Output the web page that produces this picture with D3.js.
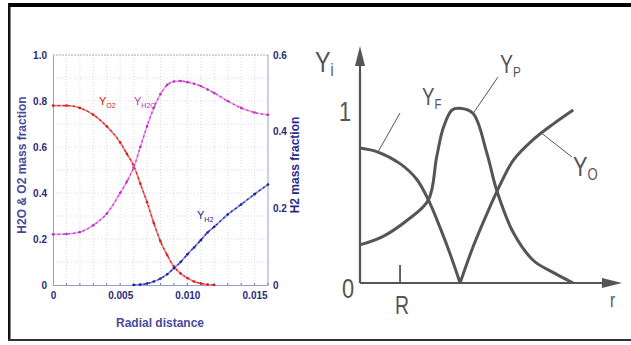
<!DOCTYPE html>
<html>
<head>
<meta charset="utf-8">
<script src="https://cdn.jsdelivr.net/npm/d3@7"></script>
<style>
  body { margin: 0; background: #fff; }
  svg { display: block; }
</style>
</head>
<body>
<div id="chart"></div>
<script>
// left panel: simulated profiles vs radial distance
const radial = [0, 0.001, 0.002, 0.003, 0.004, 0.005, 0.0055, 0.006, 0.0065, 0.007, 0.0075, 0.008, 0.0085, 0.009, 0.0095, 0.010, 0.0105, 0.011, 0.0115, 0.012, 0.013, 0.014, 0.015, 0.016];
const yO2 =    [0.78, 0.78, 0.77, 0.74, 0.69, 0.62, 0.57, 0.52, 0.44, 0.36, 0.27, 0.19, 0.13, 0.08, 0.05, 0.03, 0.015, 0.007, 0.002, 0, null, null, null, null];
const yH2O =   [0.22, 0.222, 0.23, 0.26, 0.31, 0.40, 0.45, 0.51, 0.60, 0.69, 0.77, 0.83, 0.87, 0.885, 0.887, 0.882, 0.875, 0.865, 0.85, 0.835, 0.80, 0.77, 0.75, 0.74];
const yH2 =    [null, null, null, null, null, null, null, 0, 0.001, 0.004, 0.009, 0.017, 0.028, 0.044, 0.06, 0.08, 0.098, 0.117, 0.137, 0.152, 0.184, 0.21, 0.237, 0.262];
const xTicks = [0, 0.005, 0.010, 0.015];
const xTickLabels = ['0', '0.005', '0.010', '0.015'];
const leftTicks = [0, 0.2, 0.4, 0.6, 0.8, 1.0];
const leftTickLabels = ['0', '0.2', '0.4', '0.6', '0.8', '1.0'];
const rightTicks = [0, 0.2, 0.4, 0.6];
const rightTickLabels = ['0', '0.2', '0.4', '0.6'];

// right panel: schematic sketch
const rF = [0, 0.069, 0.154, 0.218, 0.263, 0.308, 0.346, 0.385];
const vF = [0.78, 0.757, 0.69, 0.60, 0.48, 0.32, 0.17, 0];
const rO = [0.385, 0.435, 0.488, 0.527, 0.59, 0.667, 0.744, 0.82];
const vO = [0, 0.21, 0.40, 0.53, 0.71, 0.83, 0.92, 1.0];
const rP = [0, 0.089, 0.179, 0.263, 0.295, 0.321, 0.354, 0.385, 0.435, 0.488, 0.527, 0.59, 0.667, 0.744, 0.82];
const vP = [0.22, 0.27, 0.36, 0.48, 0.73, 0.90, 1.0, 1.01, 0.98, 0.75, 0.53, 0.29, 0.13, 0.06, 0];
const sketchR = 0.154;

const width = 631, height = 345;
const svg = d3.select('#chart').append('svg')
  .attr('width', width)
  .attr('height', height);

// frame of the composite picture
svg.append('rect').attr('x', 8).attr('y', 3).attr('width', width - 8).attr('height', 4).attr('fill', '#000');
svg.append('rect').attr('x', 8).attr('y', 3).attr('width', 2.5).attr('height', 338).attr('fill', '#111');
svg.append('rect').attr('x', 8).attr('y', 339).attr('width', width - 8).attr('height', 2).attr('fill', '#333');

// ---------- left plot ----------
const x = d3.scaleLinear().domain([0, 0.016]).range([53, 268]);
const yL = d3.scaleLinear().domain([0, 1]).range([285, 55]);
const yR = d3.scaleLinear().domain([0, 0.6]).range([285, 55]);

const plot = svg.append('g');
const tickFont = '"Liberation Sans", Arial, sans-serif';

// dotted grid
plot.append('g').selectAll('line')
  .data(d3.range(1, 16).map(i => i * 0.001))
  .join('line')
  .attr('x1', d => x(d)).attr('x2', d => x(d))
  .attr('y1', yL(1)).attr('y2', yL(0))
  .attr('stroke', '#cfd0dc').attr('stroke-width', 0.8).attr('stroke-dasharray', '1,2');
plot.append('g').selectAll('line')
  .data(d3.range(1, 10).map(i => i * 0.1))
  .join('line')
  .attr('x1', x(0)).attr('x2', x(0.016))
  .attr('y1', d => yL(d)).attr('y2', d => yL(d))
  .attr('stroke', '#cfd0dc').attr('stroke-width', 0.8).attr('stroke-dasharray', '1,2');

// box
plot.append('line').attr('x1', x(0)).attr('x2', x(0.016)).attr('y1', yL(1)).attr('y2', yL(1))
  .attr('stroke', '#a8aac8').attr('stroke-dasharray', '2,1');
plot.append('line').attr('x1', x(0.016)).attr('x2', x(0.016)).attr('y1', yL(1)).attr('y2', yL(0))
  .attr('stroke', '#9a9cd0');

const axisStyle = g => {
  g.select('.domain').attr('stroke', '#9a9cd0');
  g.selectAll('.tick line').attr('stroke', '#9a9cd0');
  g.selectAll('.tick text')
    .attr('fill', '#2a2a7a')
    .style('font-family', tickFont)
    .style('font-weight', 'bold')
    .style('font-size', '10px');
};

plot.append('g')
  .attr('transform', `translate(${x(0)},0)`)
  .call(d3.axisLeft(yL).tickValues(leftTicks).tickSize(0).tickPadding(6)
    .tickFormat((d, i) => leftTickLabels[i]))
  .call(axisStyle);

plot.append('g')
  .attr('transform', `translate(${x(0.016)},0)`)
  .call(d3.axisRight(yR).tickValues(rightTicks).tickSize(0).tickPadding(5)
    .tickFormat((d, i) => rightTickLabels[i]))
  .call(axisStyle)
  .call(g => g.select('.domain').remove());

plot.append('g')
  .attr('transform', `translate(0,${yL(0)})`)
  .call(d3.axisBottom(x).tickValues(xTicks).tickSize(0).tickPadding(7)
    .tickFormat((d, i) => xTickLabels[i]))
  .call(axisStyle);

// minor ticks on bottom axis
plot.append('g').selectAll('line')
  .data(d3.range(1, 17).map(i => i * 0.001))
  .join('line')
  .attr('x1', d => x(d)).attr('x2', d => x(d))
  .attr('y1', yL(0)).attr('y2', yL(0) - 2)
  .attr('stroke', '#7070b0');

// axis titles
const titleStyle = t => t.attr('fill', '#4a4a9a')
  .style('font-family', tickFont).style('font-weight', 'bold').style('font-size', '12px')
  .attr('text-anchor', 'middle');
plot.append('text').attr('transform', 'translate(26,165) rotate(-90)').text('H2O & O2 mass fraction').call(titleStyle);
plot.append('text').attr('transform', 'translate(299,165) rotate(-90)').text('H2 mass fraction').call(titleStyle).attr('fill', '#2a2a8a');
plot.append('text').attr('x', 160).attr('y', 327).text('Radial distance').call(titleStyle);

// curves
const series = [
  { vals: yO2, scale: yL, light: '#f08080', dark: '#d02020' },
  { vals: yH2O, scale: yL, light: '#f0a0f0', dark: '#c030c0' },
  { vals: yH2, scale: yR, light: '#8090e0', dark: '#202090' }
];
series.forEach(s => {
  const pts = radial.map((r, i) => [r, s.vals[i]]).filter(p => p[1] !== null);
  const line = d3.line().x(p => x(p[0])).y(p => s.scale(p[1])).curve(d3.curveMonotoneX);
  plot.append('path').attr('d', line(pts)).attr('fill', 'none')
    .attr('stroke', s.light).attr('stroke-width', 1.8);
  plot.append('path').attr('d', line(pts)).attr('fill', 'none')
    .attr('stroke', s.dark).attr('stroke-width', 1.2).attr('stroke-dasharray', '2,3');
  plot.append('g').selectAll('circle').data(pts).join('circle')
    .attr('cx', p => x(p[0])).attr('cy', p => s.scale(p[1])).attr('r', 1.3)
    .attr('fill', s.dark);
});

// curve labels
const curveLabel = (px, py, sub, color) => {
  const t = plot.append('text').attr('x', px).attr('y', py).attr('fill', color)
    .style('font-family', tickFont).style('font-size', '11px');
  t.append('tspan').text('Y');
  t.append('tspan').attr('dy', 3).style('font-size', '7px').text(sub);
};
curveLabel(99, 105, 'O2', '#d02020');
curveLabel(134, 105, 'H2O', '#c030c0');
curveLabel(197, 219, 'H2', '#202090');

// ---------- right sketch ----------
const sx = d3.scaleLinear().domain([0, 1]).range([360, 620]);
const sy = d3.scaleLinear().domain([0, 1]).range([283, 110]);
const ink = '#555';
const sketch = svg.append('g');
const sketchFont = '"Liberation Sans", Arial, sans-serif';

// axes with arrows
sketch.append('line').attr('x1', sx(0)).attr('x2', sx(0)).attr('y1', sy(0)).attr('y2', 58)
  .attr('stroke', ink).attr('stroke-width', 2.2);
sketch.append('path').attr('d', `M${sx(0)},46 L${sx(0) - 5},66 L${sx(0) + 5},66 Z`).attr('fill', ink);
sketch.append('line').attr('x1', sx(0)).attr('x2', 610).attr('y1', sy(0)).attr('y2', sy(0))
  .attr('stroke', ink).attr('stroke-width', 2.2);
sketch.append('path').attr('d', `M622,${sy(0)} L602,${sy(0) - 5} L602,${sy(0) + 5} Z`).attr('fill', ink);
sketch.append('line').attr('x1', sx(sketchR)).attr('x2', sx(sketchR)).attr('y1', sy(0)).attr('y2', sy(0) - 18)
  .attr('stroke', ink).attr('stroke-width', 1.8);

const sline = d3.line().x(p => sx(p[0])).y(p => sy(p[1])).curve(d3.curveCatmullRom.alpha(0.5));
[[rF, vF], [rO, vO], [rP, vP]].forEach(([rs, vs]) => {
  sketch.append('path').attr('d', sline(rs.map((r, i) => [r, vs[i]])))
    .attr('fill', 'none').attr('stroke', ink).attr('stroke-width', 3);
});

// leader lines
const leader = (x1, y1, x2, y2) => sketch.append('line')
  .attr('x1', x1).attr('y1', y1).attr('x2', x2).attr('y2', y2)
  .attr('stroke', ink).attr('stroke-width', 1);
leader(sx(0.069), sy(0.757), 400, 113);
leader(sx(0.435), sy(0.98), 498, 77);
leader(sx(0.695), sy(0.87), 572, 157);

// narrow, tall hand-lettered look: squeeze text horizontally
const sText = (px, py, txt, size, sub) => {
  const t = sketch.append('text').attr('transform', `translate(${px},${py}) scale(0.78,1)`)
    .attr('fill', ink)
    .style('font-family', sketchFont).style('font-size', size + 'px');
  t.append('tspan').text(txt);
  if (sub) t.append('tspan').attr('dy', 4).style('font-size', (size * 0.6) + 'px').text(sub);
};
sText(315, 72, 'Y', 30, 'i');
sText(422, 105, 'Y', 24, 'F');
sText(500, 73, 'Y', 25, 'P');
sText(573, 176, 'Y', 28, 'O');
sText(339, 121, '1', 28);
sText(342, 298, '0', 28);
sText(395, 314, 'R', 25);
sText(610, 307, 'r', 20);
</script>
</body>
</html>
